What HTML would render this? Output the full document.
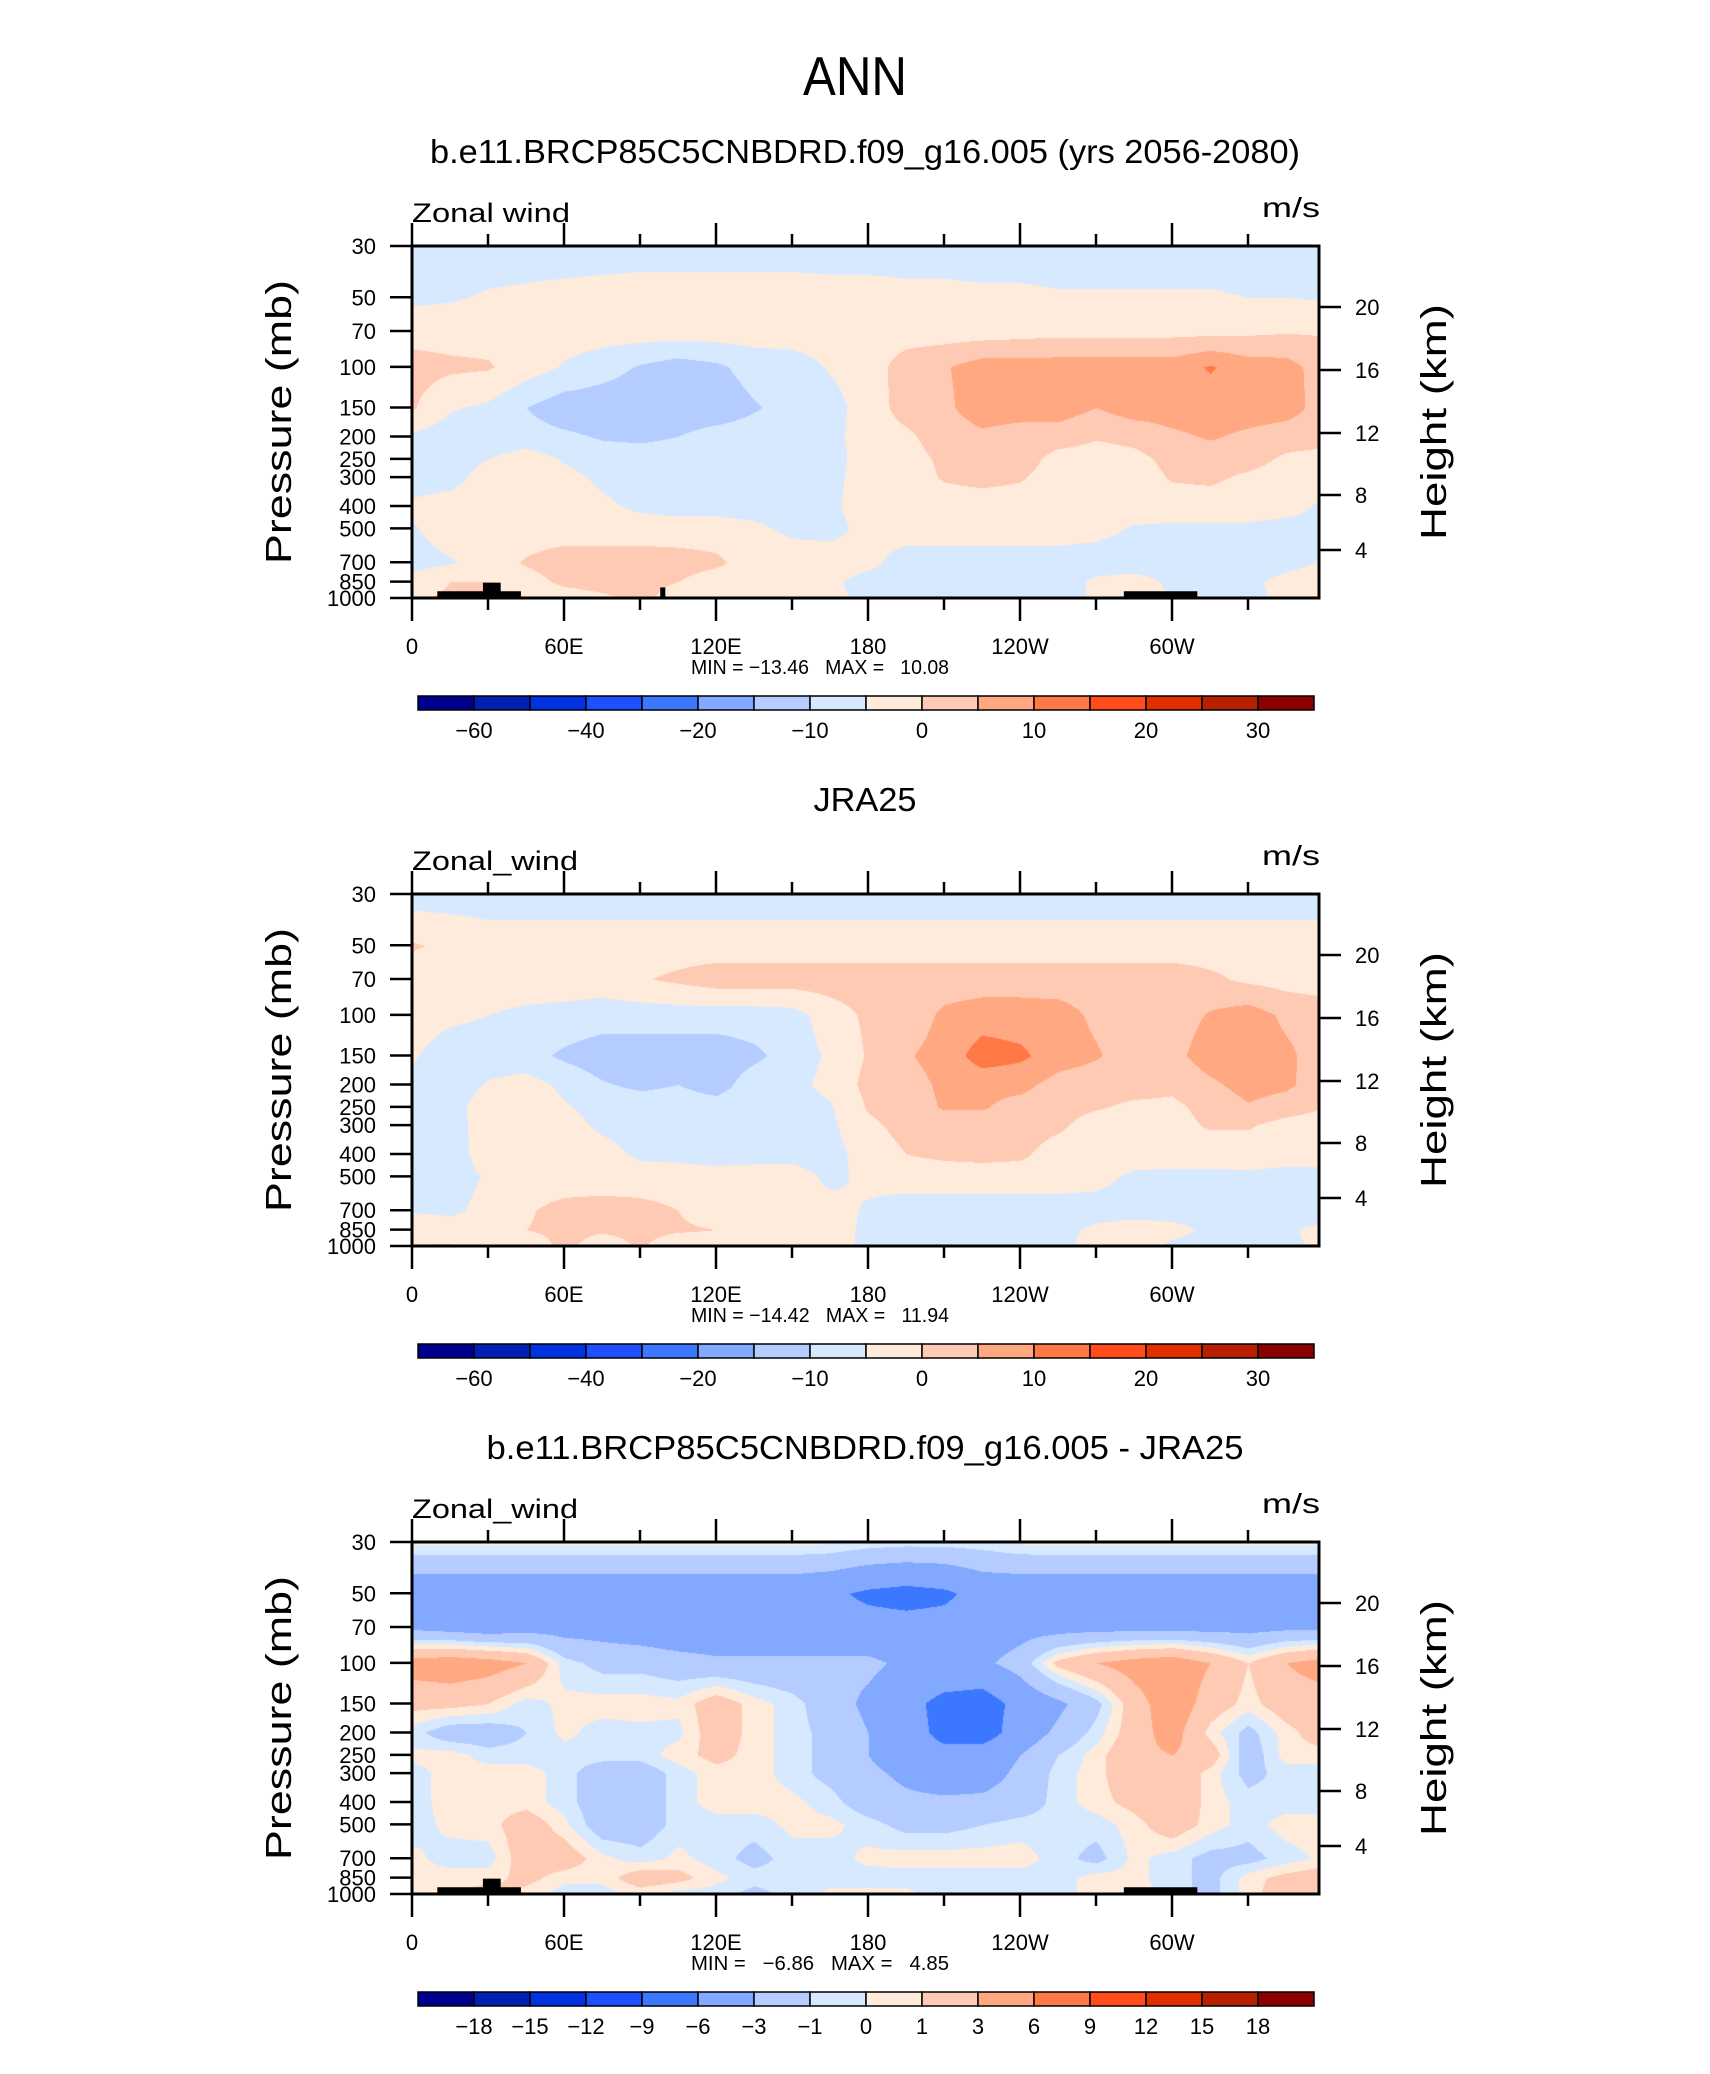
<!DOCTYPE html>
<html><head><meta charset="utf-8">
<style>
html,body{margin:0;padding:0;background:#fff;}
#page{position:relative;width:1710px;height:2074px;overflow:hidden;background:#fff;}
canvas{position:absolute;}
svg{position:absolute;left:0;top:0;}
text{font-family:"Liberation Sans","DejaVu Sans",sans-serif;fill:#000;}
</style></head>
<body>
<div id="page">
<canvas id="c0" width="907" height="352" style="left:412px;top:246px"></canvas>
<canvas id="c1" width="907" height="352" style="left:412px;top:894px"></canvas>
<canvas id="c2" width="907" height="352" style="left:412px;top:1542px"></canvas>
<svg id="svg" width="1710" height="2074" xmlns="http://www.w3.org/2000/svg">
<text x="855" y="95" font-size="55" text-anchor="middle" textLength="104" lengthAdjust="spacingAndGlyphs">ANN</text>
</svg>
</div>
<script>
// ---------- data ----------
const levels = [30,50,70,100,150,200,250,300,400,500,700,850,1000];
const lons = [0,15,30,45,60,75,90,105,120,135,150,165,180,195,210,225,240,255,270,285,300,315,330,345,360];
// values read relative to the colour band scheme; absolute m/s = value + absOffset
const absOffset = -5;

const model = [
[-2.5,-2.5,-2.5,-2.5,-2.5,-2.5,-2.5,-2.5,-2.5,-2.5,-2.5,-2.5,-2.5,-2.5,-2.5,-2.5,-2.5,-2.5,-2.5,-2.5,-2.5,-2.5,-2.5,-2.5,-2.5],
[-1,-0.5,0.5,1,1.5,2,2.5,2.5,2.5,2.5,2.5,2,2,1.5,1.5,1,1,0.5,0.5,0.5,0.5,0.5,0,0,-0.5],
[3,3,3,2.5,2.5,2.5,2.5,2.5,2.5,2.5,2.5,2.5,2.5,2.5,2.5,2.5,3,3.5,3.5,3.5,3.5,3.5,4,4.5,4.5],
[7,6,5.5,2.5,-0.5,-3,-5.5,-7.5,-6,-3,-2.5,0.5,2.5,7.5,9.5,12.5,12.5,12.5,12.5,12.5,12.5,15.5,12.5,12,7.5],
[5.5,0.5,-1,-5,-8,-8,-8,-8,-8,-5.5,-3,-2,2.5,7,9,12.5,12.5,12.5,10,12.5,12.5,12.5,12.5,12,8],
[-1,-2.5,-3,-3,-4,-5.5,-6,-5,-3,-2.5,-2.5,-1.5,2.5,4,7.5,9,7.5,7.5,5.5,6.5,9,10.5,9,7.5,7],
[-2.5,-2.5,0,2.5,-0.5,-2.5,-2.5,-2.5,-2.5,-2.5,-2.5,-2,2.5,3,6,7.5,7.5,3,2.5,3.5,6.5,7.5,7,4,3],
[-2.5,-2,2.5,2.5,1.5,-1,-2.5,-2.5,-2.5,-2.5,-2.5,-1.5,2.5,2.5,5.5,6.5,5.5,2.5,2.5,2.5,5.5,6,4,2.5,2.5],
[1,2.5,2.5,2.5,2.5,1,-1,-2,-2,-2,-2.5,-1,2.5,2.5,2.5,2.5,2.5,2.5,2.5,2.5,2.5,2.5,2.5,2,-1],
[-0.5,2.5,2.5,2.5,2.5,2.5,2.5,2.5,2.5,1,-1,-1.5,1.5,2.5,2.5,2.5,2.5,2.5,1.5,-0.5,-1,-1,-1,-2,-1.5],
[-2,-0.5,2.5,5.5,7.5,7.5,7.5,7,6,2.5,2.5,2.5,1.5,-2.5,-2.5,-2.5,-2.5,-2.5,-2.5,-2.5,-2.5,-2.5,-2.5,-1.5,0.5],
[2,5,5,3,6,7,6.5,5,2.5,2.5,2.5,1,-2,-2.5,-2.5,-2.5,-2.5,-2.5,1,2,-1,-2,-1,1.5,2.5],
[4,6,6,2.5,2.5,4,6.5,2.5,2.5,2.5,2.5,1,-1,-2.5,-2.5,-2.5,-2.5,-2.5,1,4,-0.5,-2,-2,2,2.5]
];

const jra = [
[-2.5,-2.5,-2.5,-2.5,-2.5,-2.5,-2.5,-2.5,-2.5,-2.5,-2.5,-2.5,-2.5,-2.5,-2.5,-2.5,-2.5,-2.5,-2.5,-2.5,-2.5,-2.5,-2.5,-2.5,-2.5],
[5.5,4,2.5,2.5,2.5,2.5,2.5,2.5,2.5,2.5,2.5,2.5,2.5,2.5,2.5,2.5,2.5,2.5,2.5,2.5,2.5,2.5,2.5,2.5,2.5],
[2.5,2.5,2.5,2.5,2.5,2.5,4.5,6,7.5,7.5,7.5,7.5,7.5,7.5,7.5,7.5,7.5,7.5,7.5,7.5,7.5,6,4,3,2.5],
[2.5,1,0,-1,-1.5,-2.5,-2.5,-2.5,-2.5,-2.5,-2,2.5,6,7,11,12.5,12.5,12,9,7.5,7.5,10.5,12.5,9,7.5],
[0.5,-2.5,-2.5,-3,-6,-8,-8,-8,-8,-6,-3,1,5.5,9.5,12,17.5,16,12.5,10.5,7.5,8.5,12.5,12.5,11,7.5],
[-1,-2.5,0.5,2,-1,-4.5,-6,-5,-7,-2.5,-1.5,1.5,6.5,8,11,11.5,11.5,8,7,7,6,9,12,11,7],
[-2,-1.5,2,2.5,0.5,-2,-2.5,-2.5,-3,-2,-2.5,-0.5,5.5,7.5,10.5,10.5,8,7,5.5,4,4,6.5,9.5,7.5,5],
[-1,-2.5,3,3,2,-1,-2.5,-2.5,-2.5,-2.5,-2.5,-1,4,6.5,7.5,7.5,7.5,6,2.5,2.5,3.5,5.5,5.5,3,2.5],
[-1.5,-2.5,2.5,3,3,2,-1,-1.5,-2.5,-2,-1.5,-2,2.5,5,6,6.5,6,2.5,2.5,2.5,2.5,2.5,2.5,2.5,2.5],
[-0.5,-2,0.5,2.5,2.5,2.5,2.5,2.5,2.5,2.5,2,-1,1,2.5,2.5,2.5,2.5,2.5,1.5,-1,-1.5,-1.5,-1,-2,-2],
[-0.5,-1,1.5,4.5,6.5,7,6.5,5,3,2.5,2.5,1.5,-0.5,-2.5,-2.5,-2.5,-2.5,-2.5,-2,-2,-2,-2,-2,-2,-2],
[4,2.5,2.5,5,6,5.5,6,5.5,5,2.5,2.5,2,-1,-2.5,-2.5,-2.5,-2.5,-1.5,1,2.5,1.5,-1,-2,-0.5,1],
[5,5.5,2.5,2.5,6,3,5.5,2.5,2.5,2.5,2.5,2.5,-1.5,-2.5,-2.5,-2.5,-2.5,-2.5,3,2.5,-1,-2,-2,-0.5,0.5]
];

const diff = [
[0.3,0.3,0.3,0.3,0.3,0.3,0.3,0.3,0.3,0.3,0.3,0.2,-0.3,-0.5,-0.5,-0.3,0.2,0.3,0.3,0.3,0.3,0.3,0.3,0.3,0.3],
[-5,-5,-5,-5,-5,-5,-5,-5,-5,-5,-5,-5.5,-6.5,-7,-6.5,-5,-5,-5,-5,-5,-5,-5,-5,-5,-5],
[-3.5,-4,-4.5,-4,-4,-4,-4.5,-5,-5,-5,-5,-5,-5,-5,-5,-4.5,-4,-4,-3.8,-3.8,-3.8,-3.8,-3.8,-3.5,-3.5],
[4,4.5,4,3,-0.5,-1.5,-1.5,-2,-2.5,-2.5,-2.5,-2.5,-2.5,-3.5,-3.5,-3.5,-2,1.5,3,4,4.5,3,1,3,4],
[1.5,1.5,1,-0.5,0.3,0.5,0.5,0.3,2,0.5,-0.5,-2,-3.5,-5,-7,-7.5,-5,-3.5,-1.5,2,4.5,2,0.5,2,2],
[-0.5,-2,-2,-1,0.3,-0.5,-0.3,-0.3,2,0.5,-0.5,-1.5,-3,-4.5,-7,-7.5,-4.5,-2.5,-0.5,2,4,0.5,-1.5,0.5,2],
[0.3,0.5,-0.5,-0.5,-0.5,-0.5,-0.5,0.5,1.5,0.5,-0.5,-1.5,-3,-4.5,-5,-4.5,-3,-1,0.5,2.5,3,2,-2,0.5,0.5],
[-0.5,0.5,0.5,0.5,-0.5,-2,-2,-0.5,0.5,0.5,-0.5,-1.5,-2.5,-3.5,-4.5,-4,-2.5,-0.5,0.5,2.5,2.5,0.5,-1.5,-0.5,-0.5],
[-0.5,0.5,0.5,0.5,-0.5,-2,-2,-0.5,0.5,0.5,0.3,-0.5,-2,-2.5,-2.5,-2.5,-2,-0.5,0.5,1.5,2.5,0.5,-0.5,-0.5,-0.5],
[-0.5,0.3,0.5,2,0.3,-2,-2,-0.5,-0.5,-0.5,0.3,0.3,-0.5,-1.5,-1.5,-1,-0.5,-0.5,-0.5,0.5,2,0.5,-0.5,0.5,0.5],
[0.3,-0.5,-0.5,2,2,0.3,-0.5,0.3,-0.5,-1.5,-0.5,-0.5,0.3,0.5,0.5,0.5,0.5,-0.5,-1.5,0.3,-0.5,-1.5,-1.5,-0.5,0.3],
[0.5,0.5,0.5,1.5,0.3,0.3,2,1.5,0.3,-0.5,-0.5,-0.5,-0.5,-0.5,-0.5,-0.5,-0.5,-0.5,0.5,0.3,-0.5,-1.5,0.5,1.5,2],
[0.3,0.5,2,0.5,-0.5,-0.5,0.3,-0.5,-0.5,-1.5,-0.5,0.3,0.3,0.3,-0.5,-0.5,-0.5,-0.5,0.5,0.5,-0.5,-1.5,0.5,2,2]
];

const levelsAbs = [-60,-50,-40,-30,-20,-15,-10,-5,0,5,10,15,20,25,30];
const labelsAbs = ["","-60","","-40","","-20","","-10","","0","","10","","20","","30"];
const levelsDiff = [-18,-15,-12,-9,-6,-3,-1,0,1,3,6,9,12,15,18];
const labelsDiff = ["","-18","-15","-12","-9","-6","-3","-1","0","1","3","6","9","12","15","18"];
const colors = ["#000090","#0020b4","#0032e0","#1e50ff","#3c78ff","#82a8ff","#b4ccff","#d6e9ff","#ffebdb","#ffcab4","#ffa882","#ff7846","#ff4c1a","#e03000","#b82000","#8a0000"];
const pressureTicks = [30,50,70,100,150,200,250,300,400,500,700,850,1000];
const heightTicks = ["20","16","12","8","4"];
const lonTickLabels = ["0","60E","120E","180","120W","60W"];
// topography blocks: [lonStart, lonEnd, topPressure]
const topoStart = [10,28,98,281];
const topoEnd = [43,35,100,310];
const topoTop = [935,858,900,935];
const minVals = ["-13.46","-14.42","-6.86"];
const maxVals = ["10.08","11.94","4.85"];

// ---------- geometry ----------
const PW = 907, PH = 352, X0 = 412, PXDEG = 152/60;
const plotTops = [246, 894, 1542];
const yOfP = p => Math.log(p/30) * (PH/Math.log(1000/30));
const xOfLon = l => l * PXDEG;
const heightY = [61,124,187,249,304];

function binColor(v, lv){
  let i=0; while(i<lv.length && v>=lv[i]) i++;
  return colors[i];
}
function hex(c){return [parseInt(c.substr(1,2),16),parseInt(c.substr(3,2),16),parseInt(c.substr(5,2),16)];}

function drawField(id, grid, lv, off){
  const cv=document.getElementById(id), ctx=cv.getContext('2d');
  const img=ctx.createImageData(PW,PH);
  const ly=levels.map(yOfP);
  const cache={}; colors.forEach(c=>cache[c]=hex(c));
  for(let y=0;y<PH;y++){
    let r=0; while(r<levels.length-2 && ly[r+1]<=y) r++;
    const ty=Math.min(1,Math.max(0,(y-ly[r])/(ly[r+1]-ly[r])));
    for(let x=0;x<PW;x++){
      const lon=x/PXDEG; let c=Math.min(lons.length-2,Math.floor(lon/15));
      const tx=(lon-lons[c])/15;
      const v=off+(grid[r][c]*(1-tx)+grid[r][c+1]*tx)*(1-ty)+(grid[r+1][c]*(1-tx)+grid[r+1][c+1]*tx)*ty;
      const col=cache[binColor(v,lv)];
      const k=(y*PW+x)*4; img.data[k]=col[0];img.data[k+1]=col[1];img.data[k+2]=col[2];img.data[k+3]=255;
    }
  }
  ctx.putImageData(img,0,0);
}
drawField('c0',model,levelsAbs,absOffset);
drawField('c1',jra,levelsAbs,absOffset);
drawField('c2',diff,levelsDiff,0);

// ---------- overlay ----------
const svg=document.getElementById('svg'), NS='http://www.w3.org/2000/svg';
function el(tag,attrs,parent){const e=document.createElementNS(NS,tag);for(const k in attrs)e.setAttribute(k,attrs[k]);(parent||svg).appendChild(e);return e;}
function txt(s,attrs){const e=el('text',attrs);e.textContent=s;return e;}

const titles=["b.e11.BRCP85C5CNBDRD.f09_g16.005 (yrs 2056-2080)","JRA25","b.e11.BRCP85C5CNBDRD.f09_g16.005 - JRA25"];
const titleLen=[870,103,757];
const varNames=["Zonal wind","Zonal_wind","Zonal_wind"];

plotTops.forEach((T,pi)=>{
  const B=T+PH;
  let t=txt(titles[pi],{x:865,y:T-83,'font-size':33,'text-anchor':'middle',textLength:titleLen[pi],lengthAdjust:'spacingAndGlyphs'});
  
  
  t=txt(varNames[pi],{x:412,y:T-24,'font-size':27,textLength:pi==0?158:166,lengthAdjust:'spacingAndGlyphs'});
  
  
  t=txt('m/s',{x:1320,y:T-29,'font-size':28,'text-anchor':'end',textLength:58,lengthAdjust:'spacingAndGlyphs'});
  
  
  // topography
  if(pi!==1){
    topoStart.forEach((s,i)=>{
      if(pi===2 && i===2) return;
      const r=el('rect',{x:X0+xOfLon(s),y:T+yOfP(topoTop[i]),width:xOfLon(topoEnd[i])-xOfLon(s),height:PH-yOfP(topoTop[i]),fill:'#000'});
      
      
    });
  }
  // frame
  const fr=el('rect',{x:X0,y:T,width:PW,height:PH,fill:'none',stroke:'#000','stroke-width':3});
  
  
  // lon ticks
  for(let l=0;l<=330;l+=30){
    const x=X0+xOfLon(l), len=(l%60==0)?23:12;
    el('line',{x1:x,x2:x,y1:T,y2:T-len,stroke:'#000','stroke-width':2.5});
    el('line',{x1:x,x2:x,y1:B,y2:B+len,stroke:'#000','stroke-width':2.5});
  }
  lonTickLabels.forEach((s,i)=>{
    const tl=txt(s,{x:X0+xOfLon(i*60),y:B+56,'font-size':22,'text-anchor':'middle'});
    
    
  });
  // pressure ticks
  pressureTicks.forEach(p=>{
    const y=T+yOfP(p);
    el('line',{x1:X0-22,x2:X0,y1:y,y2:y,stroke:'#000','stroke-width':2.5});
    const tl=txt(String(p),{x:376,y:y+8,'font-size':22,'text-anchor':'end'});
    
    
  });
  heightTicks.forEach((h,i)=>{
    const y=T+heightY[i];
    el('line',{x1:X0+PW,x2:X0+PW+22,y1:y,y2:y,stroke:'#000','stroke-width':2.5});
    const tl=txt(h,{x:1355,y:y+8,'font-size':22});
    
    
  });
  const cy=T+176;
  t=txt('Pressure  (mb)',{x:0,y:0,'font-size':36,'text-anchor':'middle',textLength:284,lengthAdjust:'spacingAndGlyphs',transform:`translate(291,${cy}) rotate(-90)`});
  
  
  t=txt('Height  (km)',{x:0,y:0,'font-size':36,'text-anchor':'middle',textLength:236,lengthAdjust:'spacingAndGlyphs',transform:`translate(1446,${cy}) rotate(-90)`});
  
  
  const minS=minVals[pi].replace('-','\u2212');
  t=txt(`MIN = ${minS.length<6?'  ':''}${minS}   MAX =   ${maxVals[pi]}`,{x:691,y:B+76,'font-size':20,textLength:258,lengthAdjust:'spacingAndGlyphs'});
  t.style.whiteSpace='pre';
  
  
  // colorbar
  const cbT=B+98, cbL=418, bw=56;
  const labs=pi==2?labelsDiff:labelsAbs;
  colors.forEach((c,i)=>{
    const r=el('rect',{x:cbL+i*bw,y:cbT,width:bw,height:14,fill:c,stroke:'#000','stroke-width':1.5});
    
    
    if(labs[i]){
      const tl=txt(labs[i].replace('-','\u2212'),{x:cbL+i*bw,y:cbT+42,'font-size':22,'text-anchor':'middle'});
      
      
    }
  });
});
</script>
</body></html>
